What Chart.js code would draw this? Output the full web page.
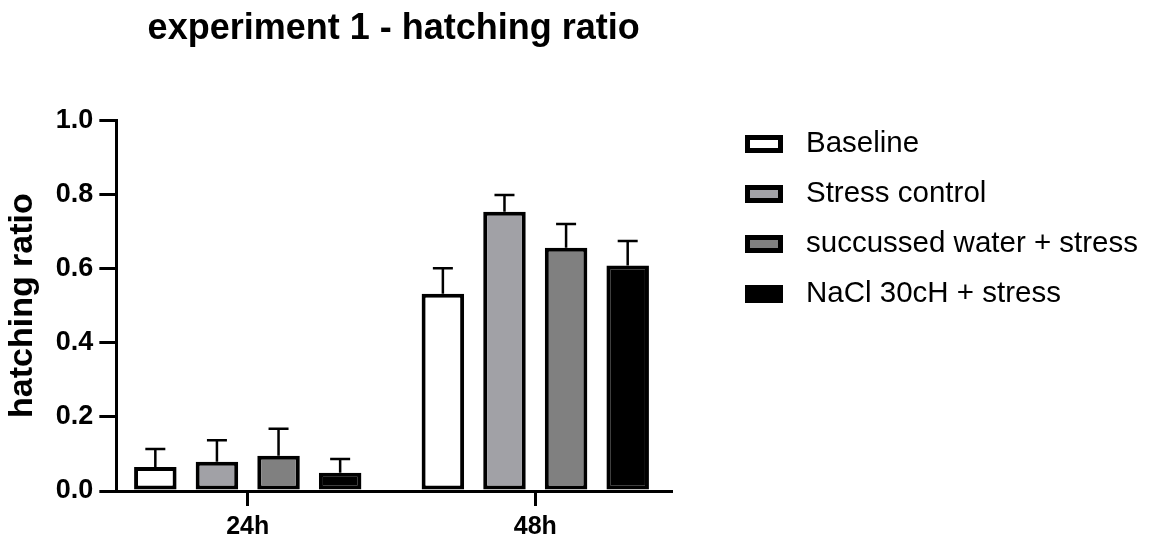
<!DOCTYPE html>
<html>
<head>
<meta charset="utf-8">
<script src="https://cdn.jsdelivr.net/npm/chart.js@4"></script>
<style>
  html, body { margin: 0; padding: 0; background: #fff; }
  #wrap { width: 1155px; height: 537px; }
</style>
</head>
<body>
<div id="wrap"><canvas id="myChart"></canvas></div>
<script>

let hours = ["24h", "48h"];
let groups = ["Baseline", "Stress control", "succussed water + stress", "NaCl 30cH + stress"];

// mean hatching ratio per time point
let baseline = [0.065, 0.532];
let stressControl = [0.079, 0.753];
let succussed = [0.095, 0.656];
let nacl = [0.049, 0.608];

// SD (upper bar only)
let baselineSd = [0.048, 0.069];
let stressControlSd = [0.058, 0.045];
let succussedSd = [0.073, 0.064];
let naclSd = [0.037, 0.066];

let yTicks = [0, 0.2, 0.4, 0.6, 0.8, 1.0];

let fills = ["#ffffff", "#a1a1a6", "#808080", "#000000"];
let font = "'Liberation Sans', Arial, sans-serif";

let means = [baseline, stressControl, succussed, nacl];
let sds = [baselineSd, stressControlSd, succussedSd, naclSd];

// error bars drawn on top of each bar
let errorBars = {
    id: 'errorBars',
    afterDatasetsDraw(chart) {
        let ctx = chart.ctx;
        let y = chart.scales.y;
        ctx.save();
        ctx.strokeStyle = '#000';
        ctx.lineWidth = 2.5;
        chart.data.datasets.forEach((ds, i) => {
            let meta = chart.getDatasetMeta(i);
            meta.data.forEach((bar, j) => {
                let top = y.getPixelForValue(ds.data[j].y + ds.sd[j]);
                ctx.beginPath();
                ctx.moveTo(bar.x, bar.y);
                ctx.lineTo(bar.x, top);
                ctx.moveTo(bar.x - 10, top);
                ctx.lineTo(bar.x + 10, top);
                ctx.stroke();
            });
        });
        ctx.restore();
    }
};

// title centred over the plot, legend to the right
let sideLegend = {
    id: 'sideLegend',
    afterLayout(chart) {
        let t = chart.titleBlock;
        t.left = chart.chartArea.left;
        t.right = chart.chartArea.right;
    },
    afterDraw(chart) {
        let ctx = chart.ctx;
        ctx.save();
        chart.data.datasets.forEach((ds, i) => {
            let cy = 144 + i * 50;
            let x0 = 745;
            ctx.fillStyle = '#000';
            ctx.fillRect(x0, cy - 9, 38, 18);
            ctx.fillStyle = ds.backgroundColor;
            ctx.fillRect(x0 + 5, cy - 4, 28, 8);
            ctx.fillStyle = '#000';
            ctx.font = "29.5px " + font;
            ctx.textBaseline = 'middle';
            ctx.fillText(ds.label, 806, cy);
        });
        ctx.restore();
    }
};

let datasets = groups.map((g, i) => ({
    label: g,
    data: means[i].map((v, j) => ({ x: j, y: v })),
    sd: sds[i],
    backgroundColor: fills[i],
    borderColor: '#000',
    borderWidth: 4,
    borderSkipped: false,
    categoryPercentage: 0.857,
    barPercentage: 0.69
}));

let myChart = new Chart(document.getElementById("myChart").getContext('2d'), {
    type: 'bar',
    data: { datasets: datasets },
    plugins: [errorBars, sideLegend],
    options: {
        responsive: true,
        maintainAspectRatio: false,
        animation: false,
        devicePixelRatio: 1,
        layout: { padding: { left: -3, right: 484, top: 0, bottom: -12 } },
        plugins: {
            legend: { display: false },
            tooltip: { enabled: false },
            title: {
                display: true,
                text: 'experiment 1 - hatching ratio',
                color: '#000',
                font: { family: font, size: 36, weight: 'bold' },
                padding: { top: 7, bottom: 70 }
            }
        },
        scales: {
            x: {
                type: 'linear',
                offset: false,
                min: -0.457,
                max: 1.472,
                afterBuildTicks: s => { s.ticks = hours.map((h, i) => ({ value: i })); },
                ticks: {
                    callback: v => hours[v],
                    color: '#000',
                    padding: 9,
                    font: { family: font, size: 25, weight: 'bold', lineHeight: 1 }
                },
                grid: { offset: false, drawOnChartArea: false, tickLength: 15, color: '#000', lineWidth: 3 },
                border: { color: '#000', width: 3 }
            },
            y: {
                min: 0,
                max: 1,
                afterBuildTicks: s => { s.ticks = yTicks.map(v => ({ value: v })); },
                ticks: {
                    callback: v => v.toFixed(1),
                    color: '#000',
                    padding: 6,
                    font: { family: font, size: 27, weight: 'bold' }
                },
                grid: { drawOnChartArea: false, tickLength: 17, color: '#000', lineWidth: 3 },
                border: { color: '#000', width: 3 },
                title: {
                    display: true,
                    text: 'hatching ratio',
                    color: '#000',
                    font: { family: font, size: 34, weight: 'bold' },
                    padding: { top: 5, bottom: 7 }
                }
            }
        }
    }
});

</script>
</body>
</html>
